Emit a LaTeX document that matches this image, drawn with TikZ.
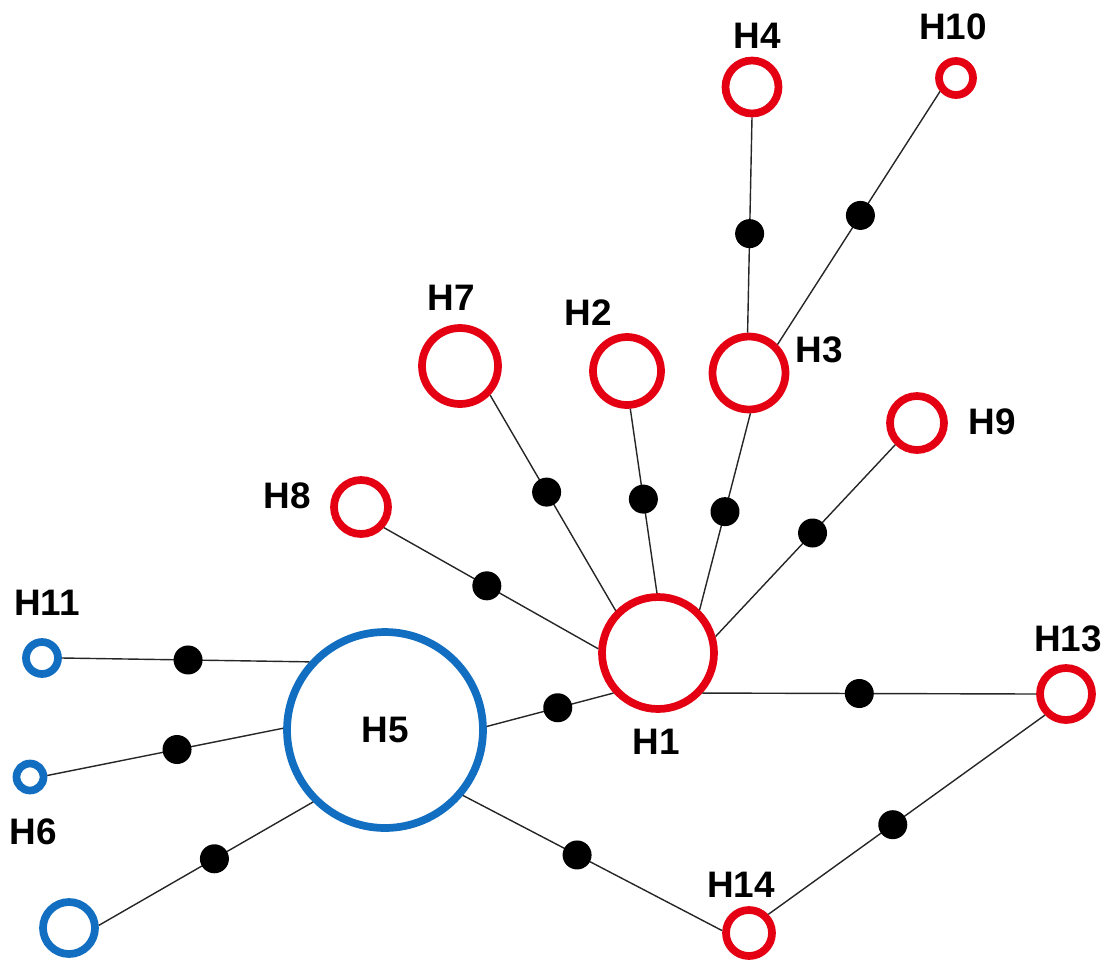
\documentclass[tikz,border=0pt]{standalone}
\usepackage{fontspec}
\setmainfont{Liberation Sans}
\definecolor{hapred}{RGB}{228,0,18}
\definecolor{hapblue}{RGB}{18,110,192}
\tikzset{
  hap/.style={circle, draw=hapred, line width=4.4pt, inner sep=0pt},
  hapb/.style={hap, draw=hapblue},
  mut/.style={circle, fill=black, inner sep=0pt, minimum size=0.58cm},
  link/.style={line width=0.8pt, black!85},
  lab/.style={font=\fontsize{21}{25}\selectfont\bfseries},
}
\begin{document}
\begin{tikzpicture}[x=0.02cm, y=-0.02cm]
\useasboundingbox (0,0) rectangle (1109,961);
% haplotypes
\node (H1)  at (658,653) [hap, minimum size=2.24cm] {};
\node (H2)  at (627,371) [hap, minimum size=1.36cm] {};
\node (H3)  at (749,373) [hap, minimum size=1.46cm] {};
\node (H4)  at (752,87)  [hap, minimum size=1.06cm] {};
\node (H7)  at (460,366) [hap, minimum size=1.52cm] {};
\node (H8)  at (361,507) [hap, minimum size=1.08cm] {};
\node (H9)  at (917,423) [hap, minimum size=1.08cm] {};
\node (H10) at (956,78)  [hap, minimum size=0.68cm] {};
\node (H13) at (1066,694) [hap, minimum size=1.04cm] {};
\node (H14) at (749,933) [hap, minimum size=0.92cm] {};
\node (H5)  at (385,730) [hapb, lab, minimum size=3.92cm] {H5};
\node (H11) at (42,658)  [hapb, minimum size=0.64cm] {};
\node (H6)  at (30,777)  [hapb, minimum size=0.54cm] {};
\node (Hu)  at (69,928)  [hapb, minimum size=1.04cm] {};
% labels
\node (L1)  at (656,742) [lab] {H1};
\node (L2)  at (588,313) [lab] {H2};
\node (L3)  at (819,350) [lab] {H3};
\node (L4)  at (757,36)  [lab] {H4};
\node (L7)  at (451,298) [lab] {H7};
\node (L8)  at (287,496) [lab] {H8};
\node (L9)  at (992,422) [lab] {H9};
\node (L10) at (953,27)  [lab] {H10};
\node (L11) at (47,603)  [lab] {H11};
\node (L13) at (1068,639) [lab] {H13};
\node (L14) at (741,885) [lab] {H14};
\node (L6)  at (33,832)  [lab] {H6};
% links, one mutation step each
\draw[link] (H7.-44)   -- node[mut, pos=0.45] (m1) {}  (H1.135);
\draw[link] (H2.-85)   -- node[mut, pos=0.49] (m2) {}  (H1.91);
\draw[link] (H3.-88)   -- node[mut, pos=0.50] (m3) {}  (H1.46);
\draw[link] (H9.-135)  -- node[mut, pos=0.46] (m4) {}  (H1.16);
\draw[link] (H8.-42)   -- node[mut, pos=0.48] (m5) {}  (H1.176);
\draw[link] (H4.-90)   -- node[mut, pos=0.54] (m6) {}  (H3.92);
\draw[link] (H10.-140) -- node[mut, pos=0.49] (m7) {}  (H3.45);
\draw[link] (H1.-42)   -- node[mut, pos=0.47] (m8) {}  (H13.180);
\draw[link] (H5.2)     -- node[mut, pos=0.56] (m9) {}  (H1.-138);
\draw[link] (H11.0)    -- node[mut, pos=0.51] (m10) {} (H5.138);
\draw[link] (H6.5)     -- node[mut, pos=0.55] (m11) {} (H5.179);
\draw[link] (Hu.5)     -- node[mut, pos=0.54] (m12) {} (H5.-135);
\draw[link] (H5.-40)   -- node[mut, pos=0.44] (m13) {} (H14.175);
\draw[link] (H14.44)   -- node[mut, pos=0.45] (m14) {} (H13.-135);
\end{tikzpicture}
\end{document}
